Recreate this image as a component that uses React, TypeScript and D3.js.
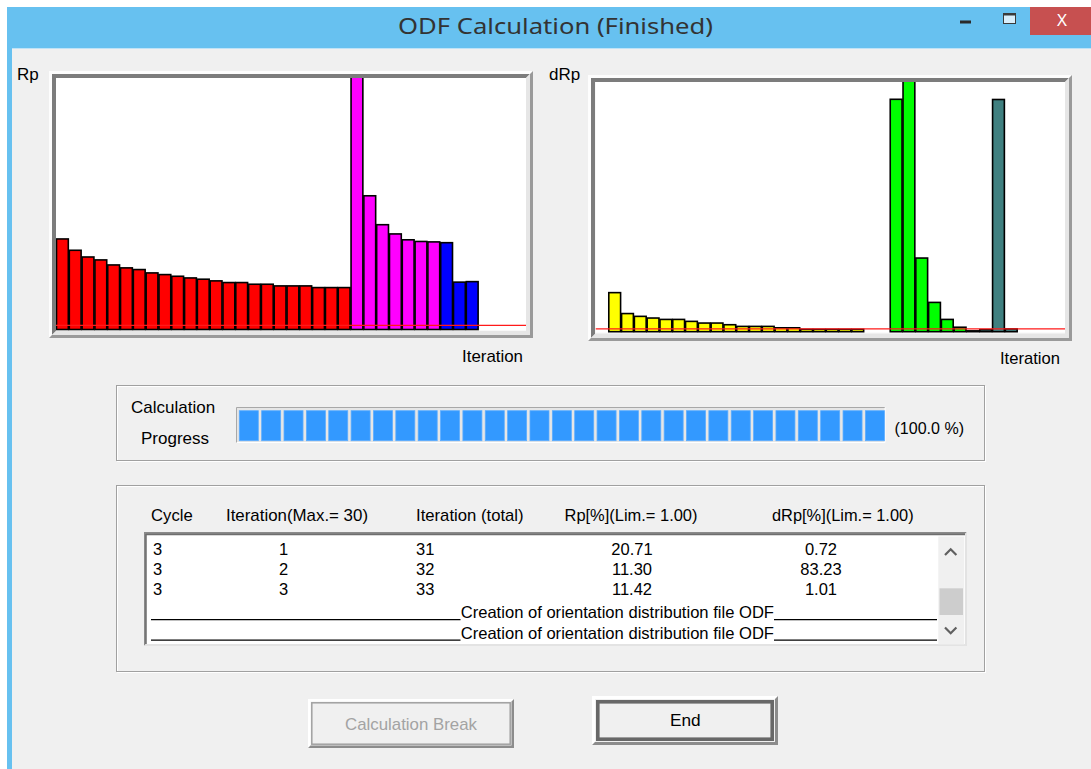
import React from 'react';
import * as d3 from 'd3';

const W = 1091;
const H = 769;

// Rp[%] per iteration, one array per cycle
const rpCycle1 = [21.6, 18.9, 17.3, 16.6, 15.4, 14.7, 14.3, 13.5, 13.1, 12.7, 12.3, 12.0, 11.6, 11.2, 11.2, 10.8, 10.8, 10.4, 10.4, 10.4, 10.0, 10.0, 10.0];
const rpCycle2 = [60.5, 31.9, 25.0, 22.8, 21.4, 21.0, 20.9];
const rpCycle3 = [20.71, 11.3, 11.42];

// dRp[%] per iteration (null = no bar drawn)
const drpCycle1 = [null, 14.0, 6.5, 5.5, 4.9, 4.4, 4.4, 3.7, 3.1, 3.1, 2.5, 1.9, 1.9, 1.9, 1.4, 1.4, 0.85, 0.85, 0.85, 0.85, 0.85, null, null];
const drpCycle2 = [83.3, 89.7, 26.4, 10.5, 4.4, 1.6, 0.3];
const drpCycle3 = [0.72, 83.23, 1.01];

const rpColors = ['#ff0000', '#ff00ff', '#0000ff'];
const drpColors = ['#ffff00', '#00ff00', '#408080'];

const rpMax = 60;
const drpMax = 89.5;
const rpLimit = 1.0;
const drpLimit = 1.0;
const slotCapacity = 36.7; // iteration slots that fit across a plot

const progressPercent = 100.0;
const progressBlockCount = 29;

const headerLabels = ['Cycle', 'Iteration(Max.= 30)', 'Iteration (total)', 'Rp[%](Lim.= 1.00)', 'dRp[%](Lim.= 1.00)'];
const rowCycle = ['3', '3', '3'];
const rowIteration = ['1', '2', '3'];
const rowTotal = ['31', '32', '33'];
const rowRp = ['20.71', '11.30', '11.42'];
const rowDrp = ['0.72', '83.23', '1.01'];
const statusLines = ['Creation of orientation distribution file ODF', 'Creation of orientation distribution file ODF'];

const FONT = "'Liberation Sans', Arial, sans-serif";

type Pt = { iter: number; v: number | null; cycle: number };

function toSeries(cycles: (number | null)[][]): Pt[] {
  const out: Pt[] = [];
  let iter = 1;
  cycles.forEach((vals, ci) => {
    vals.forEach(v => {
      out.push({ iter, v, cycle: ci });
      iter++;
    });
  });
  return out;
}

const rpSeries = toSeries([rpCycle1, rpCycle2, rpCycle3]);
const drpSeries = toSeries([drpCycle1, drpCycle2, drpCycle3]);

// two-tone 3D edge
function Bevel({ x0, y0, x1, y1, w, tl, br }: { x0: number; y0: number; x1: number; y1: number; w: number; tl: string; br: string }) {
  const a = `M${x0},${y0}H${x1}L${x1 - w},${y0 + w}H${x0 + w}V${y1 - w}L${x0},${y1}Z`;
  const b = `M${x1},${y0}V${y1}H${x0}L${x0 + w},${y1 - w}H${x1 - w}V${y0 + w}Z`;
  return (
    <g>
      <path d={a} fill={tl} />
      <path d={b} fill={br} />
    </g>
  );
}

function T({ x, y, children, size = 17, anchor = 'start', fill = '#000', len, family = FONT }: any) {
  return (
    <text x={x} y={y} fontSize={size} fontFamily={family} fill={fill} textAnchor={anchor}
      textLength={len} lengthAdjust={len ? 'spacingAndGlyphs' : undefined}>
      {children}
    </text>
  );
}

function BarPlot({ id, left, right, top, bottom, data, yMax, limit, colors }: {
  id: string; left: number; right: number; top: number; bottom: number; data: Pt[]; yMax: number; limit: number; colors: string[];
}) {
  const x = d3.scaleLinear().domain([0, slotCapacity]).range([left, right]);
  const y = d3.scaleLinear().domain([0, yMax]).range([bottom, top]).clamp(true);
  return (
    <g>
      <defs>
        <clipPath id={id}>
          <rect x={left} y={top} width={right - left} height={bottom - top + 2} />
        </clipPath>
      </defs>
      <rect x={left} y={top} width={right - left} height={bottom - top + 1} fill="#fff" />
      <g clipPath={`url(#${id})`}>
        {data.filter(d => d.v !== null).map(d => {
          const x0 = x(d.iter - 1);
          const x1 = x(d.iter);
          const v = d.v as number;
          const yt = v >= yMax ? top - 3 : y(v);
          return (
            <rect key={d.iter} x={x0 + 0.5} y={yt} width={x1 - x0 - 1}
              height={y(0) - yt} fill={colors[d.cycle]} stroke="#000" strokeWidth={1.6} />
          );
        })}
        <line x1={left} x2={right} y1={y(limit)} y2={y(limit)} stroke="#ff1a1a" strokeWidth={1.3} />
      </g>
    </g>
  );
}

function ChartFrame({ x0, y0, x1, y1 }: { x0: number; y0: number; x1: number; y1: number }) {
  return (
    <g>
      <Bevel x0={x0} y0={y0} x1={x1} y1={y1} w={3} tl="#fdfdfd" br="#9a9a9a" />
      <Bevel x0={x0 + 3} y0={y0 + 3} x1={x1 - 3} y1={y1 - 3} w={4} tl="#7c7c7c" br="#e6e6e6" />
    </g>
  );
}

function GroupBox({ x0, y0, x1, y1 }: { x0: number; y0: number; x1: number; y1: number }) {
  return (
    <g fill="none">
      <rect x={x0 + 1.5} y={y0 + 1.5} width={x1 - x0 - 1} height={y1 - y0 - 1} stroke="#ffffff" />
      <rect x={x0 + 0.5} y={y0 + 0.5} width={x1 - x0 - 1} height={y1 - y0 - 1} stroke="#a0a0a0" />
    </g>
  );
}

export default function App() {
  const blocks = d3.range(progressBlockCount);
  const band = d3.scaleBand<number>().domain(blocks).range([239.3, 884.4]).paddingInner(0.15).paddingOuter(0);
  const filled = Math.round((progressPercent / 100) * progressBlockCount);

  const rowY = d3.scaleLinear().domain([0, 1]).range([555, 575]);

  return (
    <svg width={W} height={H} style={{ position: 'absolute', left: 0, top: 0, display: 'block' }}>
      <rect x={0} y={0} width={W} height={H} fill="#ffffff" />
      {/* window */}
      <rect x={7} y={7} width={W - 7} height={H - 7} fill="#67c1f0" />
      <rect x={12} y={48} width={W - 12} height={H - 48} fill="#f0f0f0" />
      <line x1={12} x2={W} y1={48.5} y2={48.5} stroke="#bfe3f7" />
      <T x={555.5} y={34} size={22} anchor="middle" fill="#333333" len={315}
        family="'Noto Sans', 'Open Sans', sans-serif">ODF Calculation (Finished)</T>
      {/* caption buttons */}
      <rect x={960} y={20.5} width={11} height={3} fill="#2b2b2b" />
      <rect x={1003.5} y={13.5} width={12} height={10} fill="#d8eefb" stroke="#3a3a3a" />
      <line x1={1003.5} x2={1015.5} y1={14.5} y2={14.5} stroke="#3a3a3a" strokeWidth={2} />
      <rect x={1030} y={7} width={61} height={28} fill="#c75050" />
      <text x={1062} y={26} fontSize={17} fontFamily="'Noto Sans', sans-serif" fill="#ffffff" textAnchor="middle">X</text>

      {/* Rp chart */}
      <T x={17} y={80}>Rp</T>
      <ChartFrame x0={49} y0={71} x1={533} y1={338} />
      <BarPlot id="clipRp" left={56} right={526} top={78} bottom={329.5} data={rpSeries} yMax={rpMax} limit={rpLimit} colors={rpColors} />
      <T x={462} y={361.5} len={61}>Iteration</T>

      {/* dRp chart */}
      <T x={549} y={80}>dRp</T>
      <ChartFrame x0={588} y0={75} x1={1072} y1={341} />
      <BarPlot id="clipDrp" left={595.5} right={1065} top={82} bottom={331.7} data={drpSeries} yMax={drpMax} limit={drpLimit} colors={drpColors} />
      <T x={1000} y={363.5} len={60}>Iteration</T>

      {/* progress */}
      <GroupBox x0={116} y0={385} x1={985} y1={461} />
      <T x={131} y={413}>Calculation</T>
      <T x={141} y={443.5}>Progress</T>
      <rect x={236} y={407} width={649} height={36} fill="#e6e6e6" />
      <path d="M236.5,443V407.5H885" fill="none" stroke="#a8a8a8" />
      <path d="M885,407.5V442.5H236.5" fill="none" stroke="#ffffff" />
      {blocks.slice(0, filled).map(i => (
        <rect key={i} x={band(i)} y={410.7} width={band.bandwidth()} height={30} fill="#3399ff" stroke="#5cadff" strokeWidth={0.8} />
      ))}
      <T x={894.5} y={433.5} size={16} len={69.5}>({progressPercent.toFixed(1)} %)</T>

      {/* results table */}
      <GroupBox x0={116} y0={485} x1={985} y1={672} />
      <T x={151} y={521} len={41.7}>{headerLabels[0]}</T>
      <T x={226} y={521} len={142}>{headerLabels[1]}</T>
      <T x={416} y={521} len={107.6}>{headerLabels[2]}</T>
      <T x={564.5} y={521} len={133}>{headerLabels[3]}</T>
      <T x={772} y={521} len={141.6}>{headerLabels[4]}</T>

      <rect x={144} y={532} width={823} height={114} fill="#ffffff" />
      <Bevel x0={144} y0={532} x1={967} y1={646} w={2} tl="#8a8a8a" br="#e3e3e3" />
      <line x1={146} x2={146} y1={534} y2={644} stroke="#6e6e6e" strokeWidth={1.5} />
      <line x1={146} x2={965} y1={534.5} y2={534.5} stroke="#6e6e6e" strokeWidth={1.5} />
      {rowCycle.map((c, i) => (
        <g key={i}>
          <T x={153} y={rowY(i)} size={16.5}>{c}</T>
          <T x={283.5} y={rowY(i)} size={16.5} anchor="middle">{rowIteration[i]}</T>
          <T x={416} y={rowY(i)} size={16.5}>{rowTotal[i]}</T>
          <T x={632} y={rowY(i)} size={16.5} anchor="middle">{rowRp[i]}</T>
          <T x={821} y={rowY(i)} size={16.5} anchor="middle">{rowDrp[i]}</T>
        </g>
      ))}
      {statusLines.map((s, i) => {
        const yy = 618.3 + i * 20.5;
        return (
          <g key={`s${i}`}>
            <line x1={151} x2={460.5} y1={yy + 1.3} y2={yy + 1.3} stroke="#000" strokeWidth={1.3} />
            <T x={460.7} y={yy} size={16.5} len={313.3}>{s}</T>
            <line x1={774} x2={937} y1={yy + 1.3} y2={yy + 1.3} stroke="#000" strokeWidth={1.3} />
          </g>
        );
      })}
      {/* scrollbar */}
      <rect x={938.3} y={536.5} width={26} height={108} fill="#f0f0f0" />
      <rect x={939.5} y={588.3} width={23.5} height={26.7} fill="#cdcdcd" />
      <path d="M945,555 L950.7,549.3 L956.4,555" fill="none" stroke="#606060" strokeWidth={2.2} />
      <path d="M945,627.5 L950.7,633.2 L956.4,627.5" fill="none" stroke="#606060" strokeWidth={2.2} />

      {/* buttons */}
      <Bevel x0={308} y0={699} x1={514} y1={748} w={2.5} tl="#ffffff" br="#8c8c8c" />
      <rect x={311.8} y={702.8} width={198.4} height={41.4} fill="none" stroke="#a0a0a0" strokeWidth={1.5} />
      <T x={411} y={730} anchor="middle" fill="#a3a3a3" len={132}>Calculation Break</T>

      <Bevel x0={592} y0={696} x1={778} y1={745} w={3} tl="#ffffff" br="#8c8c8c" />
      <rect x={597.8} y={701.8} width={174.4} height={37.4} fill="none" stroke="#686868" strokeWidth={3.6} />
      <T x={685.3} y={726} anchor="middle" len={30.7}>End</T>
    </svg>
  );
}
